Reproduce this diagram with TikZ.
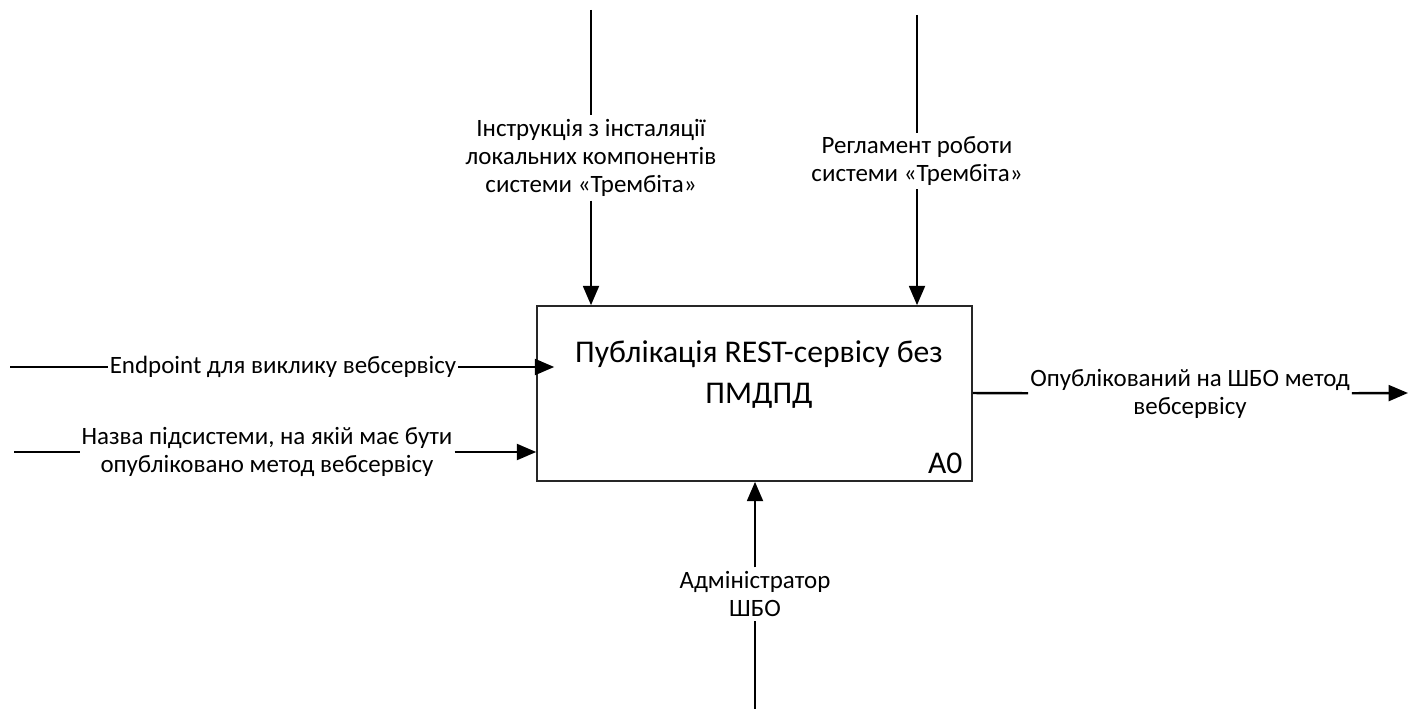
\documentclass[tikz,border=0pt]{standalone}
\usepackage{fontspec}
\setmainfont{Carlito}
\usepackage{tikz}
\usetikzlibrary{arrows.meta,positioning}
\tikzstyle{activity} = [rectangle, draw=black!85, line width=0.9pt, minimum width=8.7cm, minimum height=3.5cm, inner sep=0pt]
\tikzstyle{arrow} = [line width=1.4pt, -{Triangle[length=11pt,width=9pt]}]
\tikzstyle{lbl} = [align=center, font=\fontsize{14.2}{16}\selectfont, inner sep=2pt]

\begin{document}
\begin{tikzpicture}[x=0.02cm, y=-0.02cm]
\useasboundingbox (0,0) rectangle (1415,709);
% Activity box
\node[activity] (act) at (754.5,393.5) {};
\node[align=center, font=\fontsize{18}{23.4}\selectfont] (acttitle) at (759,375) {Публікація REST-сервісу без\\ПМДПД};
\node[anchor=base east, inner sep=0pt, font=\fontsize{18}{22}\selectfont] (actnum) at ([xshift=-0.2cm,yshift=0.16cm]act.south east) {A0};

% Controls
\coordinate (ctrla) at (591,10);
\node[lbl] (ctrlalbl) at (591,158) {Інструкція з інсталяції\\локальних компонентів\\системи «Трембіта»};
\draw[arrow] (ctrla) -- (ctrlalbl) -- (act.north -| ctrla);

\coordinate (ctrlb) at (917,15);
\node[lbl] (ctrlblbl) at (917,161) {Регламент роботи\\системи «Трембіта»};
\draw[arrow] (ctrlb) -- (ctrlblbl) -- (act.north -| ctrlb);

% Inputs
\coordinate (ina) at (10,367);
\node[lbl, inner sep=1pt] (inalbl) at (283,367) {Endpoint для виклику вебсервісу};
\draw[arrow] (ina) -- (inalbl) -- ([xshift=0.36cm]act.west |- ina);

\coordinate (inb) at (14,452);
\node[lbl, inner sep=1pt] (inblbl) at (267,452) {Назва підсистеми, на якій має бути\\опубліковано метод вебсервісу};
\draw[arrow] (inb) -- (inblbl) -- (act.west |- inb);

% Output
\coordinate (outa) at (1408,393);
\node[lbl, inner sep=1pt] (outalbl) at (1190,394) {Опублікований на ШБО метод\\вебсервісу};
\draw[arrow] (act.east |- outa) -- (outalbl) -- (outa);

% Mechanism
\coordinate (mecha) at (755,709);
\node[lbl] (mechalbl) at (755,594) {Адміністратор\\ШБО};
\draw[arrow] (mecha) -- (mechalbl) -- (act.south -| mecha);
\end{tikzpicture}
\end{document}
